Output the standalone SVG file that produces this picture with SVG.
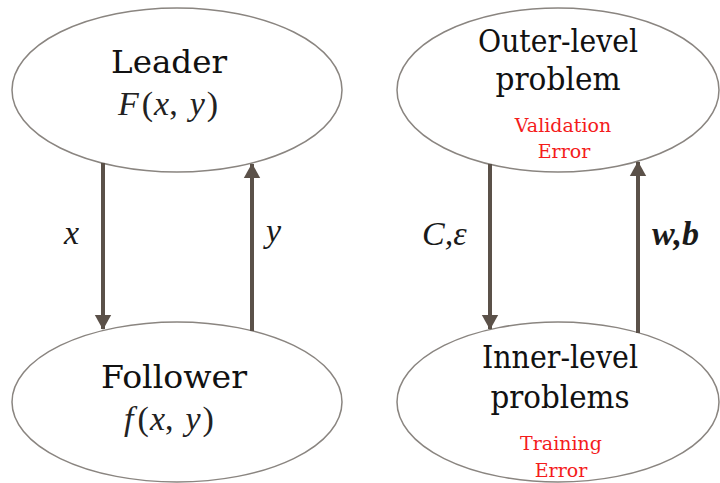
<svg xmlns="http://www.w3.org/2000/svg" width="720" height="483" viewBox="0 0 720 483">
<defs>
<marker id="ah" markerUnits="userSpaceOnUse" markerWidth="22" markerHeight="18" viewBox="0 0 18 22" refX="17" refY="11" orient="auto">
<path d="M0,1 L18,11 L0,21 Z" fill="#5b5149"/>
</marker>
<style>
.node{fill:#fff;stroke:#8a8580;stroke-width:1.5}
.t{font-family:"DejaVu Serif","Liberation Serif",serif;font-size:32px;fill:#111;text-anchor:middle}
.r{font-family:"DejaVu Serif","Liberation Serif",serif;font-size:19px;fill:#f41c1c;text-anchor:middle}
.m{font-family:"Liberation Serif",serif;font-size:34px;fill:#222;text-anchor:middle}
.i{font-style:italic}
.lab{font-family:"Liberation Serif","DejaVu Serif",serif;font-style:italic;font-size:34px;fill:#1a1a1a}
.conn line{stroke:#5b5149;stroke-width:4;marker-end:url(#ah)}
</style>
</defs>
<rect width="720" height="483" fill="#fff"/>
<g id="leader">
<ellipse class="node" cx="177" cy="90" rx="165" ry="82"/>
<text class="t" x="169" y="73" textLength="116" lengthAdjust="spacingAndGlyphs">Leader</text>
<text class="m" x="168" y="115"><tspan class="i">F</tspan><tspan dx="3">(</tspan><tspan class="i" dx="1">x</tspan>,<tspan dx="12" class="i">y</tspan><tspan dx="2">)</tspan></text>
</g>
<g id="follower">
<ellipse class="node" cx="177" cy="402" rx="165" ry="80"/>
<text class="t" x="174" y="388" textLength="146" lengthAdjust="spacingAndGlyphs">Follower</text>
<text class="m" x="169" y="430"><tspan class="i">f</tspan><tspan dx="4">(</tspan><tspan class="i" dx="1">x</tspan>,<tspan dx="12" class="i">y</tspan><tspan dx="2">)</tspan></text>
</g>
<g id="outer">
<ellipse class="node" cx="558" cy="90" rx="161" ry="82"/>
<text class="t" x="558" y="52" textLength="160" lengthAdjust="spacingAndGlyphs">Outer-level</text>
<text class="t" x="558" y="90" textLength="125" lengthAdjust="spacingAndGlyphs">problem</text>
<text class="r" x="563" y="132">Validation</text>
<text class="r" x="564" y="158">Error</text>
</g>
<g id="inner">
<ellipse class="node" cx="558" cy="402" rx="161" ry="80"/>
<text class="t" x="560" y="368" textLength="156" lengthAdjust="spacingAndGlyphs">Inner-level</text>
<text class="t" x="560" y="408" textLength="139" lengthAdjust="spacingAndGlyphs">problems</text>
<text class="r" x="561" y="450">Training</text>
<text class="r" x="561" y="477">Error</text>
</g>
<g id="connectors" class="conn">
<line x1="103" y1="163" x2="103" y2="329"/>
<line x1="252" y1="331" x2="252" y2="164"/>
<line x1="490" y1="164" x2="490" y2="329"/>
<line x1="638" y1="333" x2="638" y2="162"/>
</g>
<g id="labels">
<text class="lab" x="64" y="244">x</text>
<text class="lab" x="266" y="242">y</text>
<text class="lab" x="422" y="245" font-size="37">C,ε</text>
<text class="lab" x="652" y="245" font-weight="bold" font-size="37">w,b</text>
</g>
</svg>
